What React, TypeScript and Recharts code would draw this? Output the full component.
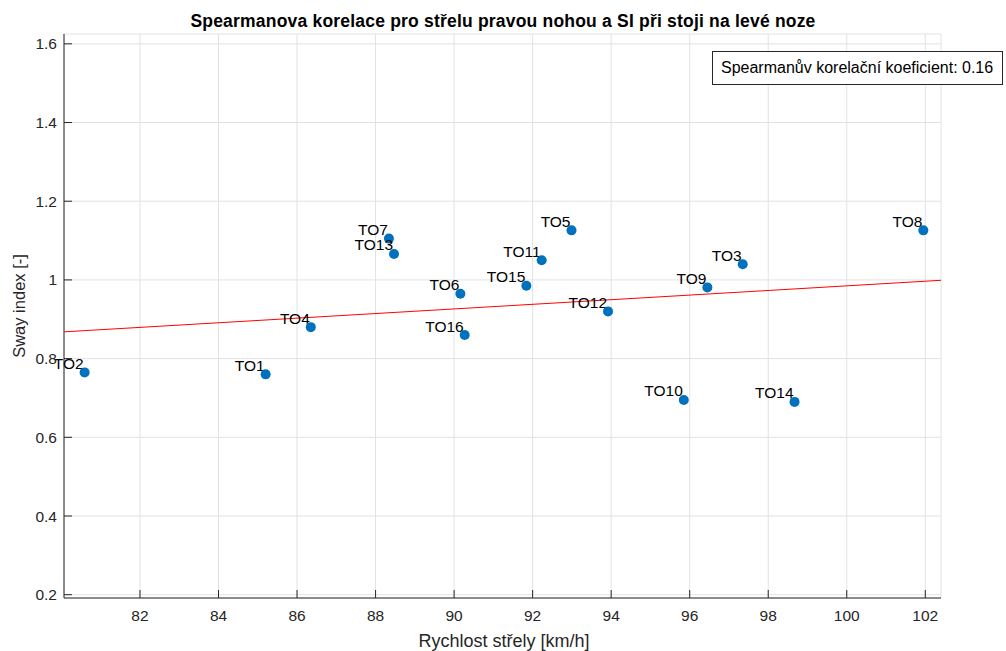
import { ScatterChart, Scatter, XAxis, YAxis, CartesianGrid, Label } from "recharts";

const names = ["TO1", "TO2", "TO3", "TO4", "TO5", "TO6", "TO7", "TO8", "TO9", "TO10", "TO11", "TO12", "TO13", "TO14", "TO15", "TO16"];
const speeds = [85.2, 80.59, 97.35, 86.35, 92.99, 90.16, 88.34, 101.95, 96.45, 95.85, 92.23, 93.92, 88.47, 98.67, 91.84, 90.27];
const swayIndex = [0.76, 0.765, 1.04, 0.88, 1.126, 0.965, 1.105, 1.126, 0.981, 0.695, 1.05, 0.92, 1.066, 0.69, 0.985, 0.86];

// linear fit, drawn across the whole x range
const trendX = [80.065, 102.4];
const trendY = [0.868, 0.999];

const xTicks = [82, 84, 86, 88, 90, 92, 94, 96, 98, 100, 102];
const yTicks = [0.2, 0.4, 0.6, 0.8, 1, 1.2, 1.4, 1.6];
const xDomain = [80.065, 102.4];
const yDomain = [0.1916, 1.625];

const spearman = "0.16";

const FONT = '"Liberation Sans", Arial, Helvetica, sans-serif';
const AXIS = "#262626";
const PLOT_LEFT = 64;
const PLOT_BOTTOM = 598;

const points = names.map((name, i) => ({ name, x: speeds[i], y: swayIndex[i] }));
const trend = trendX.map((x, i) => ({ x, y: trendY[i] }));

function XTick(props: any) {
  const { x, payload } = props;
  return (
    <g>
      <line x1={x} x2={x} y1={PLOT_BOTTOM} y2={PLOT_BOTTOM - 8} stroke={AXIS} />
      <text x={x} y={621} textAnchor="middle" fontSize={15.5} fill={AXIS} fontFamily={FONT}>
        {payload.value}
      </text>
    </g>
  );
}

function YTick(props: any) {
  const { y, payload } = props;
  return (
    <g>
      <line x1={PLOT_LEFT} x2={PLOT_LEFT + 8} y1={y} y2={y} stroke={AXIS} />
      <text x={57} y={y} textAnchor="end" dominantBaseline="central" fontSize={15.5} fill={AXIS} fontFamily={FONT}>
        {payload.value}
      </text>
    </g>
  );
}

function Dot(props: any) {
  const { cx, cy, payload } = props;
  return (
    <g>
      <text x={cx - 1} y={cy - 3.5} textAnchor="end" fontSize={15.5} fill="#000" fontFamily={FONT}>
        {payload.name}
      </text>
      <circle cx={cx} cy={cy} r={5} fill="#0072BD" />
    </g>
  );
}

export default function App() {
  return (
    <div style={{ position: "absolute", left: 0, top: 0, width: 1006, height: 651, background: "#fff", fontFamily: FONT }}>
      <ScatterChart width={1006} height={651} margin={{ top: 34, right: 65, bottom: 0, left: 0 }}>
        <CartesianGrid stroke="#e2e2e2" vertical horizontal />
        <XAxis
          type="number"
          dataKey="x"
          domain={xDomain}
          ticks={xTicks}
          height={53}
          tickLine={false}
          axisLine={{ stroke: AXIS }}
          tick={<XTick />}
        >
          <Label
            content={() => (
              <text x={504} y={647} textAnchor="middle" fontSize={18} fill={AXIS} fontFamily={FONT}>
                Rychlost střely [km/h]
              </text>
            )}
          />
        </XAxis>
        <YAxis
          type="number"
          dataKey="y"
          domain={yDomain}
          ticks={yTicks}
          width={64}
          tickLine={false}
          axisLine={{ stroke: AXIS }}
          tick={<YTick />}
        >
          <Label
            content={() => (
              <text
                x={19}
                y={306}
                textAnchor="middle"
                dominantBaseline="central"
                transform="rotate(-90 19 306)"
                fontSize={16.5}
                fill={AXIS}
                fontFamily={FONT}
              >
                Sway index [-]
              </text>
            )}
          />
        </YAxis>
        <Scatter
          data={trend}
          line={{ stroke: "#FF0000", strokeWidth: 1 }}
          shape={() => <g />}
          isAnimationActive={false}
        />
        <Scatter data={points} shape={<Dot />} isAnimationActive={false} />
      </ScatterChart>
      <svg width={1006} height={40} style={{ position: "absolute", left: 0, top: 0, pointerEvents: "none" }}>
        <text
          x={503}
          y={26.5}
          textAnchor="middle"
          fontSize={17.5}
          letterSpacing={0.2}
          fontWeight="bold"
          fill="#000"
          fontFamily={FONT}
        >
          Spearmanova korelace pro střelu pravou nohou a SI při stoji na levé noze
        </text>
      </svg>
      <div
        style={{
          position: "absolute",
          left: 712,
          top: 51,
          width: 291,
          height: 34,
          boxSizing: "border-box",
          border: `1px solid ${AXIS}`,
          background: "#fff",
          fontSize: 16,
          lineHeight: "32px",
          paddingLeft: 8,
          color: "#000",
          whiteSpace: "nowrap",
        }}
      >
        Spearmanův korelační koeficient: {spearman}
      </div>
    </div>
  );
}
